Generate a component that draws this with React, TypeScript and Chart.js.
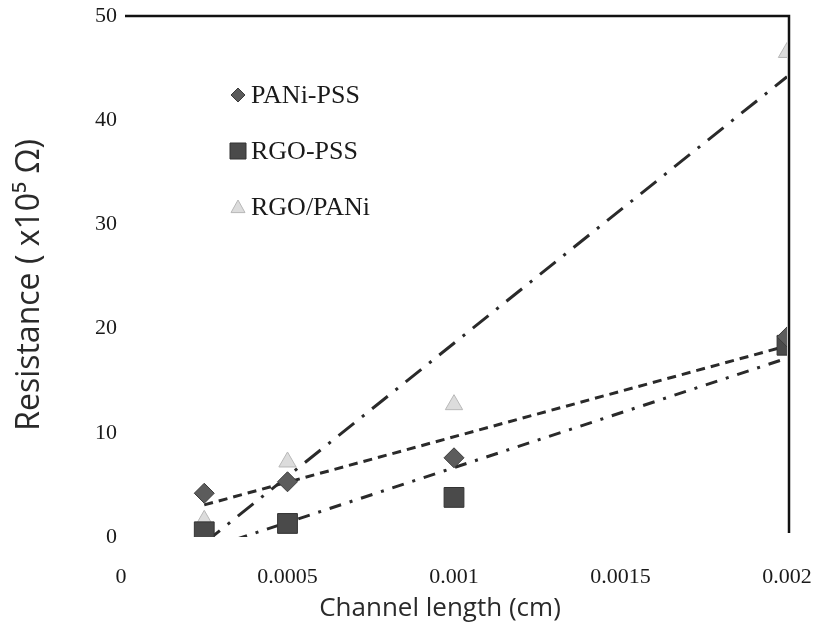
import React, { useEffect, useRef } from 'react';
import { Chart, registerables } from 'chart.js';

Chart.register(...registerables);

// ---- data ----
const channelLength = [0.00025, 0.0005, 0.001, 0.002];
const paniPss = [4.2, 5.3, 7.6, 19.2];
const rgoPss = [0.5, 1.3, 3.8, 18.4];
const rgoPani = [1.6, 7.2, 12.7, 46.5];
const seriesNames = ['PANi-PSS', 'RGO-PSS', 'RGO/PANi'];
const xTickLabels = ['0', '0.0005', '0.001', '0.0015', '0.002'];
const yTickLabels = ['0', '10', '20', '30', '40', '50'];
const xTitle = 'Channel length (cm)';
const yTitle = 'Resistance ( x10\u2075 \u03A9)';

// linear trendline (least squares), drawn across the data range
function trend(xs: number[], ys: number[]) {
  const n = xs.length;
  const mx = xs.reduce((a, b) => a + b, 0) / n;
  const my = ys.reduce((a, b) => a + b, 0) / n;
  let sxx = 0, sxy = 0;
  for (let i = 0; i < n; i++) {
    sxx += (xs[i] - mx) ** 2;
    sxy += (xs[i] - mx) * (ys[i] - my);
  }
  const b = sxy / sxx;
  const a = my - b * mx;
  const x0 = xs[0], x1 = xs[n - 1];
  return [{ x: x0, y: a + b * x0 }, { x: x1, y: a + b * x1 }];
}

const pts = (ys: number[]) => channelLength.map((x, i) => ({ x, y: ys[i] }));

const markerStyles = [
  { style: 'rectRot', radius: 10, fill: '#5c5c5c', stroke: '#3c3c3c' },
  { style: 'rect', radius: 14, fill: '#4a4a4a', stroke: '#333333' },
  { style: 'triangle', radius: 10, fill: '#dcdcdc', stroke: '#b8b8b8' },
];

const frameAndLegend = {
  id: 'frameAndLegend',
  afterDraw(chart: any) {
    const { ctx, chartArea } = chart;
    const { left, right, top, bottom } = chartArea;
    ctx.save();
    // frame: top + right lines
    ctx.strokeStyle = '#111';
    ctx.lineWidth = 2.5;
    ctx.beginPath();
    ctx.moveTo(left + 4, top);
    ctx.lineTo(right + 2, top);
    ctx.lineTo(right + 2, bottom - 4);
    ctx.stroke();

    // axis titles
    ctx.fillStyle = '#2a2a2a';
    ctx.textAlign = 'center';
    ctx.textBaseline = 'middle';
    ctx.font = '26px "Open Sans", sans-serif';
    ctx.fillText(xTitle, 440, 609);
    ctx.save();
    ctx.translate(30, 285);
    ctx.rotate(-Math.PI / 2);
    ctx.font = '32px "Open Sans", sans-serif';
    ctx.fillText(yTitle, 0, 0);
    ctx.restore();

    // legend
    const lx = left + 117;
    const ly0 = top + 79;
    const dy = 56;
    ctx.textAlign = 'left';
    ctx.font = '26px "Liberation Serif", serif';
    seriesNames.forEach((name, i) => {
      const y = ly0 + i * dy;
      const m = markerStyles[i];
      ctx.fillStyle = m.fill;
      ctx.strokeStyle = m.stroke;
      ctx.lineWidth = 1;
      ctx.beginPath();
      if (i === 0) {
        const r = 7;
        ctx.moveTo(lx, y - r);
        ctx.lineTo(lx + r, y);
        ctx.lineTo(lx, y + r);
        ctx.lineTo(lx - r, y);
        ctx.closePath();
      } else if (i === 1) {
        ctx.rect(lx - 8, y - 8, 16, 16);
      } else {
        const r = 7;
        ctx.moveTo(lx, y - r);
        ctx.lineTo(lx + r, y + r * 0.8);
        ctx.lineTo(lx - r, y + r * 0.8);
        ctx.closePath();
      }
      ctx.fill();
      ctx.stroke();
      ctx.fillStyle = '#1a1a1a';
      ctx.fillText(name, lx + 13, y + 1);
    });
    ctx.restore();
  },
};

export default function App() {
  const ref = useRef<HTMLCanvasElement | null>(null);

  useEffect(() => {
    document.body.style.margin = '0';
    const canvas = ref.current;
    if (!canvas) return;
    const seriesData = [paniPss, rgoPss, rgoPani];
    const dashes = [[9, 6], [12, 9, 3, 9], [20, 10, 3, 10]];

    const scatterSets = seriesData.map((ys, i) => ({
      type: 'scatter' as const,
      label: seriesNames[i],
      data: pts(ys),
      showLine: false,
      pointStyle: markerStyles[i].style,
      pointRadius: markerStyles[i].radius,
      pointBackgroundColor: markerStyles[i].fill,
      pointBorderColor: markerStyles[i].stroke,
      pointBorderWidth: 1,
      order: 0,
    }));
    const trendSets = seriesData.map((ys, i) => ({
      type: 'line' as const,
      label: seriesNames[i] + ' trend',
      data: trend(channelLength, ys),
      borderColor: '#2a2a2a',
      borderWidth: 3,
      borderDash: dashes[i],
      pointRadius: 0,
      fill: false,
      order: 1,
    }));

    const chart = new Chart(canvas, {
      type: 'scatter',
      data: { datasets: [...scatterSets, ...trendSets] as any },
      options: {
        responsive: false,
        animation: false,
        devicePixelRatio: 1,
        layout: { padding: { top: 16, right: 37, left: 0, bottom: 0 } },
        plugins: { legend: { display: false }, tooltip: { enabled: false } },
        scales: {
          x: {
            type: 'linear',
            min: 0,
            max: 0.002,
            ticks: {
              stepSize: 0.0005,
              padding: 27,
              color: '#1a1a1a',
              font: { family: '"Liberation Serif", serif', size: 22 },
              callback: (_v: any, idx: number) => xTickLabels[idx],
              maxRotation: 0,
            },
            grid: { display: false, drawTicks: false },
            border: { display: false },
            title: { display: false },
            afterFit: (s: any) => {
              s.height = 105;
              s.paddingLeft = 0;
              s.paddingRight = 0;
            },
          },
          y: {
            type: 'linear',
            min: 0,
            max: 50,
            ticks: {
              stepSize: 10,
              padding: 4,
              color: '#1a1a1a',
              font: { family: '"Liberation Serif", serif', size: 22 },
              callback: (_v: any, idx: number) => yTickLabels[idx],
            },
            grid: { display: false, drawTicks: false },
            border: { display: false },
            title: { display: false },
            afterFit: (s: any) => {
              s.width = 121;
              s.paddingTop = 0;
              s.paddingBottom = 0;
            },
          },
        },
      },
      plugins: [frameAndLegend],
    });
    return () => chart.destroy();
  }, []);

  return (
    <div style={{ width: 824, height: 642, background: '#fff' }}>
      <canvas ref={ref} width={824} height={642} style={{ display: 'block' }} />
    </div>
  );
}
